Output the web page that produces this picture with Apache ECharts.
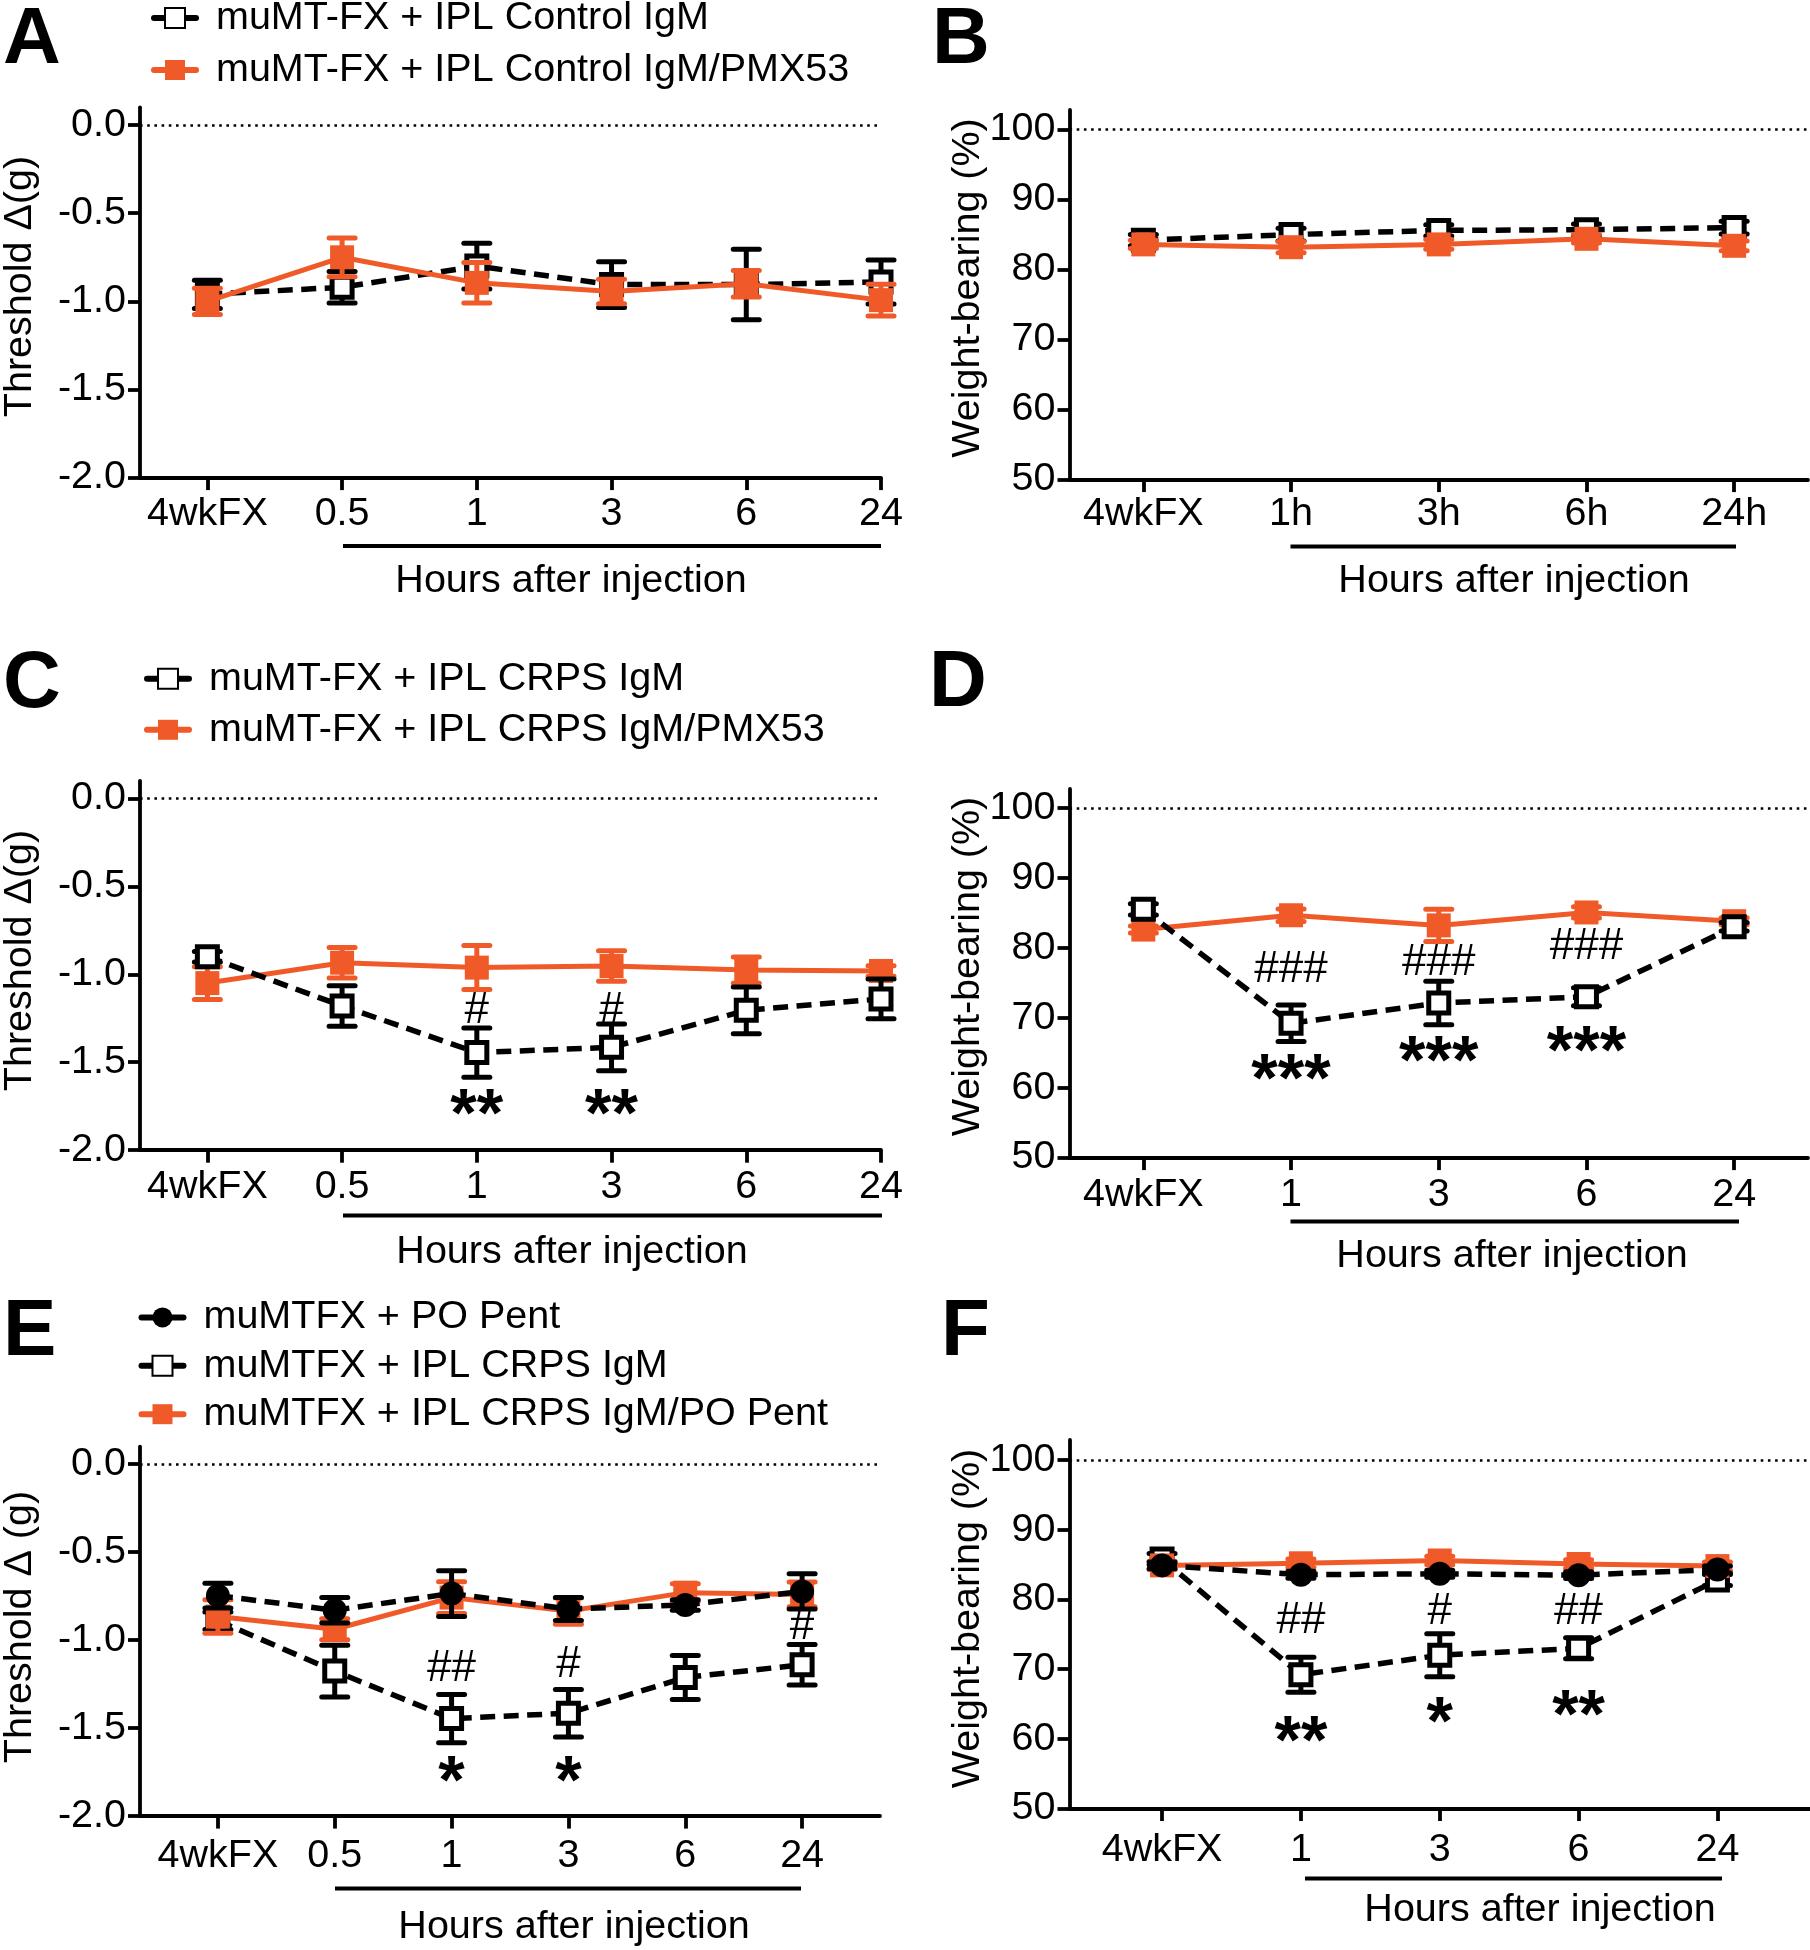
<!DOCTYPE html>
<html>
<head>
<meta charset="utf-8">
<script src="https://cdn.jsdelivr.net/npm/echarts@6/dist/echarts.min.js"></script>
<style>html,body{margin:0;padding:0;background:#fff}#c{width:1810px;height:1950px}</style>
</head>
<body>
<div id="c"></div>
<script>
// ---------- categories / tick labels ----------
const catsThreshold = ['4wkFX', '0.5', '1', '3', '6', '24'];
const catsB = ['4wkFX', '1h', '3h', '6h', '24h'];
const catsWB = ['4wkFX', '1', '3', '6', '24'];
const ticksThreshold = [-2, -1.5, -1, -0.5, 0];
const ticksWB = [50, 60, 70, 80, 90, 100];

// ---------- legends ----------
const namesA = ['muMT-FX + IPL Control IgM', 'muMT-FX + IPL Control IgM/PMX53'];
const namesC = ['muMT-FX + IPL CRPS IgM', 'muMT-FX + IPL CRPS IgM/PMX53'];
const namesE = ['muMTFX + PO Pent', 'muMTFX + IPL CRPS IgM', 'muMTFX + IPL CRPS IgM/PO Pent'];

// ---------- panel A ----------
const A_ctrl = [-0.96, -0.92, -0.80, -0.905, -0.905, -0.89];
const A_ctrl_err = [0.08, 0.09, 0.13, 0.13, 0.20, 0.125];
const A_pmx = [-1.0, -0.75, -0.895, -0.944, -0.90, -0.993];
const A_pmx_err = [0.075, 0.11, 0.115, 0.07, 0.075, 0.09];
// ---------- panel B ----------
const B_ctrl = [84.2, 85.0, 85.6, 85.7, 86.0];
const B_ctrl_err = [0.8, 0.9, 0.8, 0.8, 0.9];
const B_pmx = [83.6, 83.2, 83.6, 84.4, 83.4];
const B_pmx_err = [0.6, 0.8, 0.7, 0.6, 0.7];
// ---------- panel C ----------
const C_crps = [-0.90, -1.18, -1.445, -1.415, -1.205, -1.14];
const C_crps_err = [0.03, 0.115, 0.14, 0.133, 0.133, 0.113];
const C_pmx = [-1.05, -0.934, -0.962, -0.953, -0.976, -0.981];
const C_pmx_err = [0.093, 0.087, 0.125, 0.087, 0.075, 0.03];
const C_ann = [[2, -1.21, '#'], [3, -1.21, '#'], [2, -1.733, '**'], [3, -1.733, '**']];
// ---------- panel D ----------
const D_crps = [85.5, 69.2, 72.1, 73.0, 83.0];
const D_crps_err = [0.8, 2.6, 3.1, 1.3, 0.6];
const D_pmx = [82.6, 84.65, 83.2, 85.05, 83.8];
const D_pmx_err = [0.5, 0.9, 2.3, 0.8, 0.5];
const D_ann = [[1, 76.9, '###'], [2, 77.9, '###'], [3, 80.1, '###'], [1, 62.75, '***'], [2, 65.4, '***'], [3, 66.8, '***']];
// ---------- panel E ----------
const E_pent = [-0.747, -0.83, -0.735, -0.823, -0.80, -0.723];
const E_pent_err = [0.07, 0.072, 0.13, 0.065, 0.03, 0.10];
const E_crps = [-0.89, -1.176, -1.446, -1.415, -1.212, -1.14];
const E_crps_err = [0.05, 0.147, 0.137, 0.135, 0.125, 0.115];
const E_both = [-0.866, -0.938, -0.758, -0.835, -0.73, -0.74];
const E_both_err = [0.095, 0.06, 0.09, 0.075, 0.05, 0.07];
const E_ann = [[2, -1.164, '##'], [3, -1.14, '#'], [5, -0.926, '#'], [2, -1.737, '*'], [3, -1.737, '*']];
// ---------- panel F ----------
const F_pent = [84.9, 83.56, 83.7, 83.5, 84.3];
const F_pent_err = [0.5, 0.5, 0.5, 0.5, 0.5];
const F_crps = [85.8, 69.2, 72.0, 73.0, 82.8];
const F_crps_err = [0.8, 2.5, 3.1, 1.5, 0.8];
const F_both = [84.9, 85.2, 85.6, 85.1, 84.8];
const F_both_err = [0.6, 0.6, 0.6, 0.6, 0.6];
const F_ann = [[1, 77.0, '##'], [2, 78.2, '#'], [3, 78.2, '##'], [1, 61.3, '**'], [2, 64.0, '*'], [3, 64.9, '**']];

// ---------- styling ----------
const FONT = '"Liberation Sans", Arial, sans-serif';
const ORANGE = '#F05A28';
const FS = 39.5;

const chart = echarts.init(document.getElementById('c'), null, {renderer: 'canvas'});

const grids = [
  {left: 140, top: 107.5, width: 741, height: 370.1},
  {left: 1069.5, top: 110, width: 738.5, height: 369.6},
  {left: 140, top: 780.8, width: 741, height: 369.4},
  {left: 1069.5, top: 789, width: 738.5, height: 368.6},
  {left: 140, top: 1446.6, width: 740, height: 369.5},
  {left: 1069.5, top: 1440, width: 740.5, height: 368.5}
];
const xCfg = [
  {cats: catsThreshold, min: -0.5, max: 5, margin: 16.5},
  {cats: catsB, min: -0.5, max: 4.5, margin: 15},
  {cats: catsThreshold, min: -0.5, max: 5, margin: 17},
  {cats: catsWB, min: -0.5, max: 4.5, margin: 17.5},
  {cats: catsThreshold, min: -2 / 3, max: 5 + 2 / 3, margin: 20},
  {cats: catsWB, min: -2 / 3, max: 4 + 2 / 3, margin: 21.5}
];
const yCfg = [
  {ticks: ticksThreshold, min: -2, max: 0.1, dec: 1, ref: 0},
  {ticks: ticksWB, min: 50, max: 102.8, dec: 0, ref: 100},
  {ticks: ticksThreshold, min: -2, max: 0.1, dec: 1, ref: 0},
  {ticks: ticksWB, min: 50, max: 102.7, dec: 0, ref: 100},
  {ticks: ticksThreshold, min: -2, max: 0.1, dec: 1, ref: 0},
  {ticks: ticksWB, min: 50, max: 102.9, dec: 0, ref: 100}
];

const axisLine = {show: true, onZero: false, lineStyle: {color: '#000', width: 3.8}};
const xAxis = xCfg.map((c, i) => ({
  type: 'value', gridIndex: i, min: c.min, max: c.max,
  axisLine,
  splitLine: {show: false},
  axisTick: {show: true, length: 12.5, lineStyle: {color: '#000', width: 3.8}, customValues: c.cats.map((_, k) => k)},
  axisLabel: {show: true, margin: c.margin, fontSize: FS, fontFamily: FONT, color: '#000',
    customValues: c.cats.map((_, k) => k), formatter: v => c.cats[Math.round(v)]}
}));
const yAxis = yCfg.map((c, i) => ({
  type: 'value', gridIndex: i, min: c.min, max: c.max,
  axisLine,
  splitLine: {show: false},
  axisTick: {show: true, length: 12, lineStyle: {color: '#000', width: 3.8}, customValues: c.ticks},
  axisLabel: {show: true, margin: 14, fontSize: FS, fontFamily: FONT, color: '#000',
    customValues: c.ticks, formatter: v => Number(v).toFixed(c.dec)}
}));

function errSeries(gi, vals, errs, color, z) {
  return {
    type: 'custom', xAxisIndex: gi, yAxisIndex: gi, z, silent: true, animation: false,
    data: vals.map((v, i) => [i, v, errs[i]]),
    encode: {x: 0, y: 1},
    renderItem(params, api) {
      const x = api.value(0), y = api.value(1), e = api.value(2);
      const p1 = api.coord([x, y + e]), p2 = api.coord([x, y - e]);
      const hw = 13;
      const st = {stroke: color, lineWidth: 5, lineCap: 'round'};
      return {type: 'group', children: [
        {type: 'line', shape: {x1: p1[0], y1: p1[1], x2: p2[0], y2: p2[1]}, style: {stroke: color, lineWidth: 5}},
        {type: 'line', shape: {x1: p1[0] - hw, y1: p1[1], x2: p1[0] + hw, y2: p1[1]}, style: st},
        {type: 'line', shape: {x1: p2[0] - hw, y1: p2[1], x2: p2[0] + hw, y2: p2[1]}, style: st}
      ]};
    }
  };
}
const kinds = {
  openSq: {symbol: 'rect', symbolSize: 20, itemStyle: {color: '#fff', borderColor: '#000', borderWidth: 5},
    lineStyle: {color: '#000', width: 5.5, type: [15, 8.5]}, err: '#000'},
  orange: {symbol: 'rect', symbolSize: 24, itemStyle: {color: ORANGE, borderWidth: 0},
    lineStyle: {color: ORANGE, width: 5, type: 'solid'}, err: ORANGE},
  circle: {symbol: 'circle', symbolSize: 24, itemStyle: {color: '#000', borderWidth: 0},
    lineStyle: {color: '#000', width: 5.5, type: [15, 8.5]}, err: '#000'}
};
function lineSeries(gi, name, vals, kind, z, withRef) {
  const k = kinds[kind];
  const s = {
    type: 'line', name, xAxisIndex: gi, yAxisIndex: gi, z, animation: false, silent: true,
    data: vals.map((v, i) => [i, v]),
    symbol: k.symbol, symbolSize: k.symbolSize, showAllSymbol: true,
    itemStyle: k.itemStyle, lineStyle: k.lineStyle, emphasis: {disabled: true}
  };
  if (withRef) {
    s.markLine = {silent: true, symbol: 'none', animation: false, label: {show: false},
      lineStyle: {color: '#000', width: 2.6, type: [2.6, 4.6]},
      data: [{yAxis: yCfg[gi].ref}]};
  }
  return s;
}
function group(gi, name, vals, errs, kind, z, withRef) {
  return [errSeries(gi, vals, errs, kinds[kind].err, z), lineSeries(gi, name, vals, kind, z + 0.5, withRef)];
}
function annSeries(gi, ann, fontSize, fontWeight, dy) {
  return {
    type: 'scatter', xAxisIndex: gi, yAxisIndex: gi, z: 20, silent: true, animation: false,
    symbol: 'circle', symbolSize: 2, itemStyle: {color: 'rgba(0,0,0,0)', opacity: 1},
    data: ann.map(a => ({value: [a[0], a[1]], name: a[2]})),
    label: {show: true, position: 'inside', formatter: p => p.name, color: '#000', fontFamily: FONT,
      fontSize, fontWeight, offset: [0, dy], textBorderWidth: 0, opacity: 1},
    emphasis: {disabled: true}
  };
}
function annSeriesSplit(gi, ann) {
  const hashes = ann.filter(a => a[2].indexOf('#') >= 0);
  const stars = ann.filter(a => a[2].indexOf('*') >= 0);
  return [annSeries(gi, hashes, 44, 'normal', 0), annSeries(gi, stars, 68, 'bold', 14)];
}

const series = [].concat(
  group(0, namesA[0], A_ctrl, A_ctrl_err, 'openSq', 2, true),
  group(0, namesA[1], A_pmx, A_pmx_err, 'orange', 4, false),
  group(1, namesA[0], B_ctrl, B_ctrl_err, 'openSq', 2, true),
  group(1, namesA[1], B_pmx, B_pmx_err, 'orange', 4, false),
  group(2, namesC[1], C_pmx, C_pmx_err, 'orange', 2, true),
  group(2, namesC[0], C_crps, C_crps_err, 'openSq', 4, false),
  group(3, namesC[1], D_pmx, D_pmx_err, 'orange', 2, true),
  group(3, namesC[0], D_crps, D_crps_err, 'openSq', 4, false),
  group(4, namesE[1], E_crps, E_crps_err, 'openSq', 2, true),
  group(4, namesE[2], E_both, E_both_err, 'orange', 4, false),
  group(4, namesE[0], E_pent, E_pent_err, 'circle', 6, false),
  group(5, namesE[1], F_crps, F_crps_err, 'openSq', 2, true),
  group(5, namesE[2], F_both, F_both_err, 'orange', 4, false),
  group(5, namesE[0], F_pent, F_pent_err, 'circle', 6, false),
  annSeriesSplit(2, C_ann),
  annSeriesSplit(3, D_ann),
  annSeriesSplit(4, E_ann),
  annSeriesSplit(5, F_ann)
);

function legendCfg(names, left, top, gap) {
  return {
    data: names, orient: 'vertical', left, top, padding: 0, itemGap: gap,
    itemWidth: 42, itemHeight: 25, selectedMode: false,
    textStyle: {fontSize: FS, fontFamily: FONT, color: '#000', padding: [0, 0, 0, 15]},
    lineStyle: {type: 'solid', width: 6, cap: 'round'}
  };
}

function txt(text, x, y) {
  return {type: 'text', x, y, silent: true,
    style: {text, font: FS + 'px ' + FONT, fill: '#000', align: 'center', verticalAlign: 'middle'}};
}
function letter(t, x, y) {
  return {type: 'text', x, y, silent: true,
    style: {text: t, font: 'bold 80px ' + FONT, fill: '#000', align: 'left', verticalAlign: 'middle'}};
}
function rot(t, x, y) {
  return {type: 'text', x, y, rotation: Math.PI / 2, silent: true,
    style: {text: t, font: FS + 'px ' + FONT, fill: '#000', align: 'center', verticalAlign: 'middle'}};
}
function uline(x1, x2, y) {
  return {type: 'line', silent: true, shape: {x1, y1: y, x2, y2: y}, style: {stroke: '#000', lineWidth: 4}};
}

const graphic = [
  letter('A', 3, 40.5), letter('B', 932, 40.5), letter('C', 3, 684.5),
  letter('D', 929, 683.5), letter('E', 3, 1333), letter('F', 941, 1333),
  rot('Threshold Δ(g)', 20, 286.5), rot('Weight-bearing (%)', 968, 288),
  rot('Threshold Δ(g)', 20, 960.5), rot('Weight-bearing (%)', 968.5, 966.5),
  rot('Threshold Δ (g)', 20, 1627), rot('Weight-bearing (%)', 968.5, 1618.5),
  txt('Hours after injection', 571, 581), txt('Hours after injection', 1514, 581),
  txt('Hours after injection', 572, 1252), txt('Hours after injection', 1512, 1256),
  txt('Hours after injection', 574, 1927.5), txt('Hours after injection', 1540, 1910.5),
  uline(343, 881, 546), uline(1290.5, 1736, 546.5),
  uline(343, 882, 1215.5), uline(1290.5, 1739, 1221.6),
  uline(335, 801, 1888.5), uline(1305, 1722, 1878.4)
];

chart.setOption({
  backgroundColor: '#fff',
  animation: false,
  grid: grids.map(g => Object.assign({containLabel: false}, g)),
  xAxis, yAxis,
  legend: [
    legendCfg(namesA, 151, -2, 12),
    legendCfg(namesC, 144, 658.8, 11),
    legendCfg(namesE, 138.5, 1297.4, 8.4)
  ],
  series,
  graphic
});
</script>
</body>
</html>
